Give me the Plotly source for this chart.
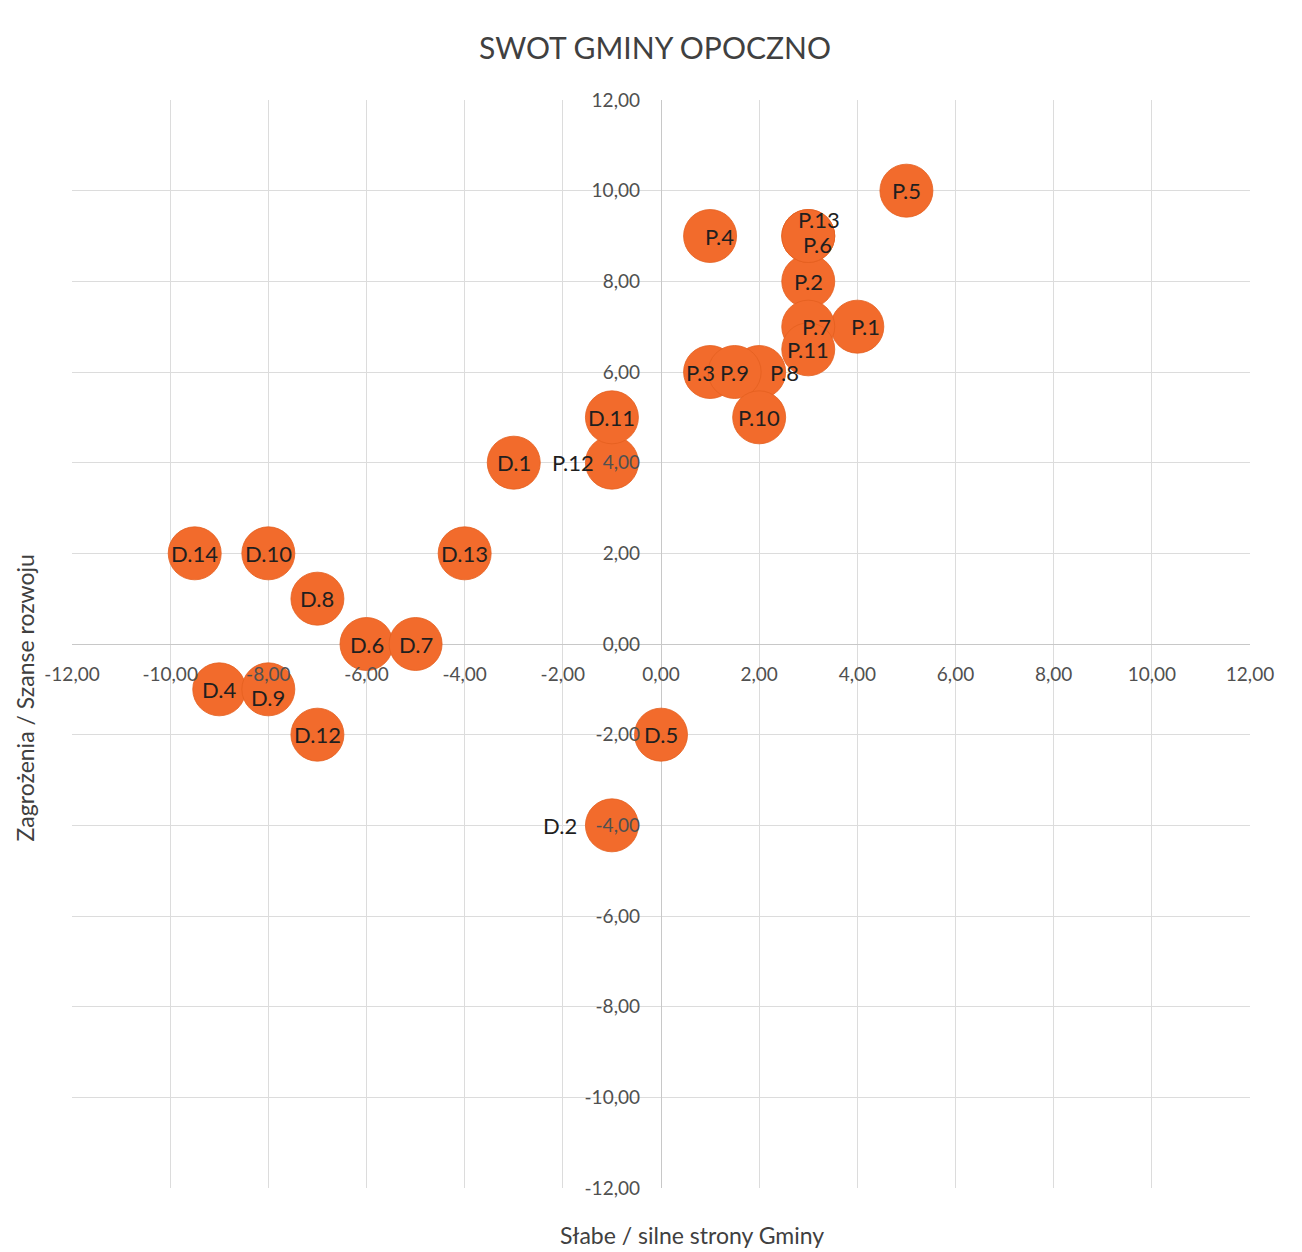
import plotly.graph_objects as go

# ---- data ----
labels = ["P.1", "P.2", "P.3", "P.4", "P.5", "P.6", "P.7", "P.8", "P.9", "P.10", "P.11", "P.12", "P.13",
          "D.1", "D.2", "D.4", "D.5", "D.6", "D.7", "D.8", "D.9", "D.10", "D.11", "D.12", "D.13", "D.14"]
x_vals = [4, 3, 1, 1, 5, 3, 3, 2, 1.5, 2, 3, -1, 3,
          -3, -1, -9, 0, -6, -5, -7, -8, -8, -1, -7, -4, -9.5]
y_vals = [7, 8, 6, 9, 10, 9, 7, 6, 6, 5, 6.5, 4, 9,
          4, -4, -1, -2, 0, 0, 1, -1, 2, 5, -2, 2, 2]

tick_vals = [-12, -10, -8, -6, -4, -2, 0, 2, 4, 6, 8, 10, 12]
tick_text = ["-12,00", "-10,00", "-8,00", "-6,00", "-4,00", "-2,00", "0,00",
             "2,00", "4,00", "6,00", "8,00", "10,00", "12,00"]

title_text = "SWOT GMINY OPOCZNO"
x_title = "Słabe / silne strony Gminy"
y_title = "Zagrożenia / Szanse rozwoju"

# ---- label placement style (pixel offsets, anchor) ----
label_style = {
    "P.13": dict(xshift=11, yshift=17),
    "P.6": dict(xshift=9, yshift=-8),
    "P.7": dict(xshift=8),
    "P.1": dict(xshift=8),
    "P.3": dict(xshift=-10),
    "P.8": dict(xshift=25),
    "P.4": dict(xshift=9),
    "P.12": dict(xshift=-16, xanchor="right"),
    "D.2": dict(xshift=-33, xanchor="right"),
    "D.9": dict(yshift=-8),
}

FONT = "Lato, 'Open Sans', sans-serif"
ORANGE = "#F26B2C"

fig = go.Figure()
fig.add_trace(go.Scatter(
    x=x_vals, y=y_vals, mode="markers",
    marker=dict(size=53, color=ORANGE, line=dict(width=0.8, color="#E3601F"), opacity=1),
    hoverinfo="text", text=labels, showlegend=False,
))

annotations = []
for lab, xv, yv in zip(labels, x_vals, y_vals):
    st = dict(xshift=0, yshift=0, xanchor="center")
    st.update(label_style.get(lab, {}))
    annotations.append(dict(
        x=xv, y=yv, xref="x", yref="y", text=lab, showarrow=False,
        font=dict(family=FONT, size=22, color="#1f1f1f"),
        xanchor=st["xanchor"], yanchor="middle",
        xshift=st["xshift"], yshift=st["yshift"],
    ))

annotations.append(dict(
    text=x_title, x=0.5, y=-0.0, xref="paper", yref="paper",
    yanchor="top", yshift=-31, xshift=31, showarrow=False,
    font=dict(family=FONT, size=23, color="#404040"),
))
annotations.append(dict(
    text=y_title, x=0, y=0.45, xref="paper", yref="paper",
    xanchor="center", xshift=-47, textangle=-90, showarrow=False,
    font=dict(family=FONT, size=23, color="#404040"),
))

axis_common = dict(
    range=[-12, 12], tickvals=tick_vals, ticktext=tick_text,
    showgrid=True, gridcolor="#DCDCDC", gridwidth=1,
    zeroline=True, zerolinecolor="#C8C8C8", zerolinewidth=1.2,
    showline=False, ticks="", anchor="free", position=0.5,
    tickfont=dict(family=FONT, size=19, color="#505050"),
    layer="above traces", fixedrange=True,
)

fig.update_layout(
    width=1302, height=1252,
    margin=dict(l=64, r=60, t=92, b=72),
    paper_bgcolor="white", plot_bgcolor="white",
    title=dict(text=title_text, x=(64 + 1242) / 2 / 1302 - 6 / 1302, xanchor="center", y=1 - 40 / 1252, yanchor="middle",
               font=dict(family=FONT, size=30, color="#404040")),
    xaxis=dict(**axis_common, ticklabelstandoff=17),
    yaxis=dict(**axis_common, ticklabelstandoff=21),
    annotations=annotations,
)

fig.write_html("out.html")
